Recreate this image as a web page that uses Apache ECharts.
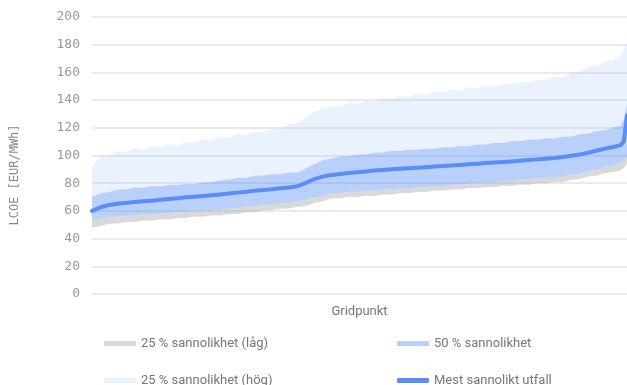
<!DOCTYPE html>
<html>
<head>
<meta charset="utf-8">
<script src="https://cdn.jsdelivr.net/npm/echarts@6/dist/echarts.min.js"></script>
<style>html,body{margin:0;padding:0;background:#fff;}#c{width:627px;height:385px;}</style>
</head>
<body>
<div id="c"></div>
<script>
// Grid point index (x categories along the sorted grid)
const gridPoint = [0,16,32,48,64,80,96,112,128,144,160,176,192,208,224,240,256,272,288,304,320,336,352,368,384,400,416,432,448,464,480,496,512,528,544,560,576,592,608,624,640,656,672,688,704,720,736,752,768,784,800,816,832,848,864,880,896,912,928,944,960,976,988,994,1000];
// Lower edge of "25 % sannolikhet (låg)"
const lowEdge = [48,49.1,50.8,50.9,52,52,53.1,52.9,54,53.8,54.9,54.8,55.9,55.7,56.8,56.7,57.8,57.8,59,59,60.3,60.4,61.6,61.7,63,63.5,65.8,66.9,69.1,69.1,70.2,70,71,70.8,71.9,71.8,72.9,72.7,73.8,73.7,74.8,74.7,75.7,75.5,76.5,76.3,77.3,77.1,78.1,78,79.1,78.9,79.9,79.7,80.8,80.9,82.5,83.1,84.9,85.5,87.3,88,89.3,91,94];
// Lower edge of "50 % sannolikhet"
const midLow = [54,54.6,55.8,55.7,56.7,56.5,57.5,57.3,58.3,58.1,59.1,58.9,59.9,59.7,60.8,60.7,61.9,61.9,63.1,63.2,64.5,64.7,65.9,65.9,67,68,69.9,71,72.7,72.8,73.8,73.8,74.6,74.6,75.4,75.4,76.2,76.3,77.2,77.2,78,78,78.8,78.8,79.6,79.6,80.4,80.5,81.4,81.6,82.5,82.6,83.5,83.5,84.4,84.8,86.2,87,88.8,90,91.8,92.8,94.5,96,98.5];
// Upper edge of "50 % sannolikhet"
const midHigh = [70,72.8,73.7,75.4,75.5,76.9,76.7,77.9,77.7,78.9,78.7,79.6,79.5,80.7,80.6,82.2,82.5,83.9,83.9,85.4,85.5,86.7,86.5,87.7,87.8,90.8,93.7,96.8,97.7,99.4,99.5,100.8,100.7,102.2,102.2,103.4,103.2,104.4,104,105.1,104.8,105.9,105.7,106.9,106.7,108,107.9,109.2,109.1,110.4,110.3,111.6,111.4,112.4,112.2,113.6,113.8,115.4,115.7,117.9,118.5,120.4,121.5,126,137];
// Upper edge of "25 % sannolikhet (hög)"
const highEdge = [92,99.6,100.2,103.4,102.6,105.2,104.1,106.8,105.9,108.3,107.2,109.6,109.4,112.1,111,113.4,112.6,115.3,114.5,117.2,116.6,119.4,119,122.3,123.8,127.5,132.2,133.6,135.9,135.5,138.1,137.2,139.6,139,141.7,140.6,143.2,142.1,144.6,143.7,146.2,145.6,147.8,146.8,149.1,148.2,150.7,149.6,151.8,151.1,153.2,152.7,154.9,154.2,156.8,156.6,160.1,160.7,164.2,164.8,168.3,169.2,172.5,176,182];
// "Mest sannolikt utfall"
const mostLikely = [60,62.6,64.3,65.2,65.8,66.4,66.9,67.4,68,68.6,69.2,69.8,70.3,70.8,71.3,71.9,72.5,73.2,73.9,74.5,75.1,75.7,76.3,76.9,77.8,80.2,83,84.9,86,86.7,87.3,87.9,88.5,89.1,89.6,90,90.4,90.8,91.2,91.6,92,92.4,92.8,93.2,93.6,94,94.5,94.9,95.3,95.7,96.2,96.7,97.2,97.7,98.2,98.9,99.8,100.8,102,103.6,105,106.3,107.5,110,129];

const seriesNames = ['25 % sannolikhet (låg)','50 % sannolikhet','25 % sannolikhet (hög)','Mest sannolikt utfall'];
const yMin = 0, yMax = 200, yStep = 20;

const pairs = arr => arr.map((v,i) => [gridPoint[i], v]);
const diff = (a,b) => a.map((v,i) => [gridPoint[i], +(v - b[i]).toFixed(2)]);

const cGray = 'rgba(160,160,160,0.4)';
const cBlue = 'rgba(100,150,245,0.45)';
const cLight = 'rgba(150,190,245,0.2)';
const cLine = '#5a8df5';

const chart = echarts.init(document.getElementById('c'), null, {renderer:'canvas'});
const legendText = {fontFamily:'Roboto', fontSize:13, color:'#777'};
function lg(name, left, top, icon){
  return {data:[{name:name, icon:icon}], left:left, top:top, itemWidth:32, itemHeight:5, textStyle:legendText, selectedMode:false};
}
chart.setOption({
  animation:false,
  grid:{left:92, right:0, top:17, bottom:91, containLabel:false},
  // time-type axis used only so that stacking happens on the y values (grid point index as position)
  xAxis:{type:'time', min:0, max:1000, name:'Gridpunkt', nameLocation:'middle', nameGap:11,
    nameTextStyle:{fontFamily:'Roboto', fontSize:13, color:'#777'},
    axisLine:{show:false}, axisTick:{show:false}, axisLabel:{show:false}, splitLine:{show:false}},
  yAxis:{type:'value', min:yMin, max:yMax, interval:yStep,
    axisLine:{show:false}, axisTick:{show:false},
    axisLabel:{margin:12, fontFamily:'DejaVu Sans Mono', fontSize:13, color:'#999'},
    splitLine:{lineStyle:{color:'#e3e3e3', width:1.5}}},
  graphic:[{type:'text', x:15, y:175, rotation:Math.PI/2,
    style:{text:'LCOE [EUR/MWh]', fontFamily:'DejaVu Sans Mono', fontSize:12, fill:'#888', textAlign:'center', textVerticalAlign:'middle'}}],
  legend:[
    lg(seriesNames[0], 99, 332, 'rect'),
    lg(seriesNames[1], 392, 332, 'rect'),
    lg(seriesNames[2], 99, 369, 'rect'),
    lg(seriesNames[3], 392, 369, 'roundRect')
  ],
  series:[
    {name:'base', type:'line', stack:'band', data:pairs(lowEdge), symbol:'none', silent:true,
      lineStyle:{width:0, opacity:0}},
    {name:seriesNames[0], type:'line', stack:'band', data:diff(midLow, lowEdge), symbol:'none',
      lineStyle:{width:0, opacity:0}, itemStyle:{color:cGray}, areaStyle:{color:cGray, opacity:1}},
    {name:seriesNames[1], type:'line', stack:'band', data:diff(midHigh, midLow), symbol:'none',
      lineStyle:{width:0, opacity:0}, itemStyle:{color:cBlue}, areaStyle:{color:cBlue, opacity:1}},
    {name:seriesNames[2], type:'line', stack:'band', data:diff(highEdge, midHigh), symbol:'none',
      lineStyle:{width:0, opacity:0}, itemStyle:{color:cLight}, areaStyle:{color:cLight, opacity:1}},
    {name:seriesNames[3], type:'line', data:pairs(mostLikely), symbol:'none', z:5,
      itemStyle:{color:cLine}, lineStyle:{color:cLine, width:4, cap:'round', join:'round'}}
  ]
});
</script>
</body>
</html>
